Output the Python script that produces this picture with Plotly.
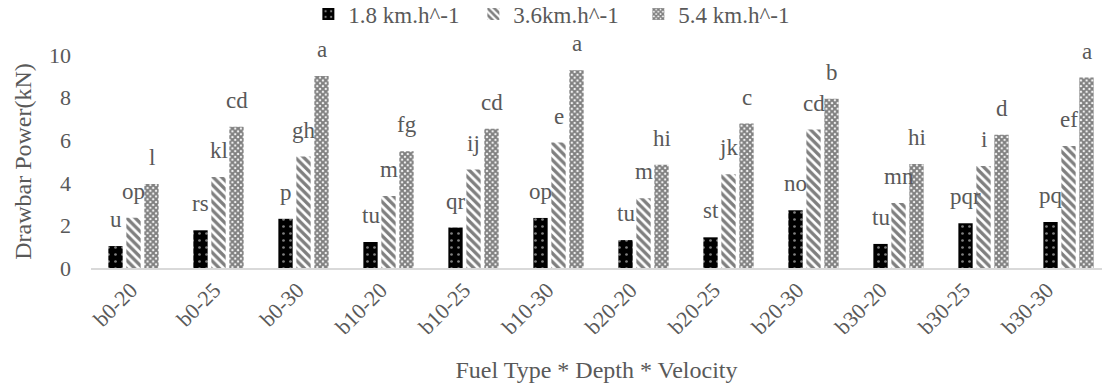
import plotly.graph_objects as go

categories = ["b0-20", "b0-25", "b0-30", "b10-20", "b10-25", "b10-30",
              "b20-20", "b20-25", "b20-30", "b30-20", "b30-25", "b30-30"]
series_names = ["1.8 km.h^-1", "3.6km.h^-1", "5.4 km.h^-1"]
v18 = [1.03, 1.77, 2.31, 1.22, 1.90, 2.35, 1.31, 1.44, 2.71, 1.13, 2.10, 2.16]
v36 = [2.36, 4.27, 5.23, 3.38, 4.62, 5.89, 3.27, 4.40, 6.50, 3.05, 4.79, 5.73]
v54 = [3.94, 6.63, 9.01, 5.48, 6.54, 9.28, 4.85, 6.78, 7.95, 4.88, 6.26, 8.94]
l18 = ["u", "rs", "p", "tu", "qr", "op", "tu", "st", "no", "tu", "pqr", "pq"]
l36 = ["op", "kl", "gh", "m", "ij", "e", "m", "jk", "cd", "mn", "i", "ef"]
l54 = ["l", "cd", "a", "fg", "cd", "a", "hi", "c", "b", "hi", "d", "a"]
y_ticks = [0, 2, 4, 6, 8, 10]

FONT = "Liberation Serif, serif"
GREY = "#595959"

patterns = [
    dict(shape=".", bgcolor="black", fgcolor="white", size=7, solidity=0.12),
    dict(shape="\\", bgcolor="white", fgcolor="black", size=6, solidity=0.55),
    dict(shape="x", bgcolor="white", fgcolor="black", size=4, solidity=0.75),
]
values = [v18, v36, v54]
labels = [l18, l36, l54]

fig = go.Figure()
for name, vals, pat in zip(series_names, values, patterns):
    fig.add_trace(go.Bar(
        x=categories, y=vals, name=name,
        marker=dict(color="black" if pat["bgcolor"] == "black" else "white",
                    line=dict(width=0), pattern=pat),
    ))

# empty helper trace so the label axis (x2) is drawn
fig.add_trace(go.Scatter(x=[], y=[], xaxis="x2", yaxis="y", showlegend=False,
                         hoverinfo="skip", mode="markers"))

# letter labels above bars
shifts = [-18, 0, 18]
for vals, labs, xs in zip(values, labels, shifts):
    for c, v, t in zip(categories, vals, labs):
        fig.add_annotation(x=c, y=v, text=t, showarrow=False, xshift=xs,
                           yanchor="bottom", yshift=12,
                           font=dict(family=FONT, size=23, color=GREY))

fig.update_layout(
    width=1102, height=385,
    margin=dict(l=91, r=0, t=55, b=117, autoexpand=False),
    paper_bgcolor="white", plot_bgcolor="white",
    barmode="group", bargap=0.365, bargroupgap=0.205,
    font=dict(family=FONT, size=23, color=GREY),
    showlegend=True,
    legend=dict(orientation="h", x=0.215, xanchor="left", y=1.192, yanchor="middle",
                font=dict(family=FONT, size=23, color=GREY),
                bgcolor="rgba(0,0,0,0)", itemwidth=30, entrywidth=120,
                entrywidthmode="pixels", traceorder="normal"),
    xaxis=dict(
        range=[-0.5, 11.394], showgrid=False, automargin=False,
        showline=True, linecolor="#d9d9d9", linewidth=1.5,
        ticks="", showticklabels=False,
    ),
    # category labels, spaced as in the original figure
    xaxis2=dict(
        overlaying="x", anchor="y", side="bottom", type="linear",
        range=[-0.48, 11.661], tickmode="array",
        tickvals=list(range(len(categories))), ticktext=categories,
        tickangle=-45, showgrid=False, zeroline=False, showline=False,
        ticks="", ticklabelstandoff=4, automargin=False,
        tickfont=dict(family=FONT, size=22, color=GREY),
        title=dict(text="Fuel Type * Depth * Velocity",
                   font=dict(family=FONT, size=24, color=GREY), standoff=22),
    ),
    yaxis=dict(
        range=[0, 10], tickvals=y_ticks, showgrid=False, zeroline=False,
        showline=False, ticks="", ticklabelstandoff=19, automargin=False,
        tickfont=dict(family=FONT, size=22, color=GREY),
        title=dict(text="Drawbar Power(kN)",
                   font=dict(family=FONT, size=24, color=GREY), standoff=10),
    ),
)

fig.write_html("out.html", config={"displayModeBar": False},
               post_script="document.body.style.margin='0px';")
